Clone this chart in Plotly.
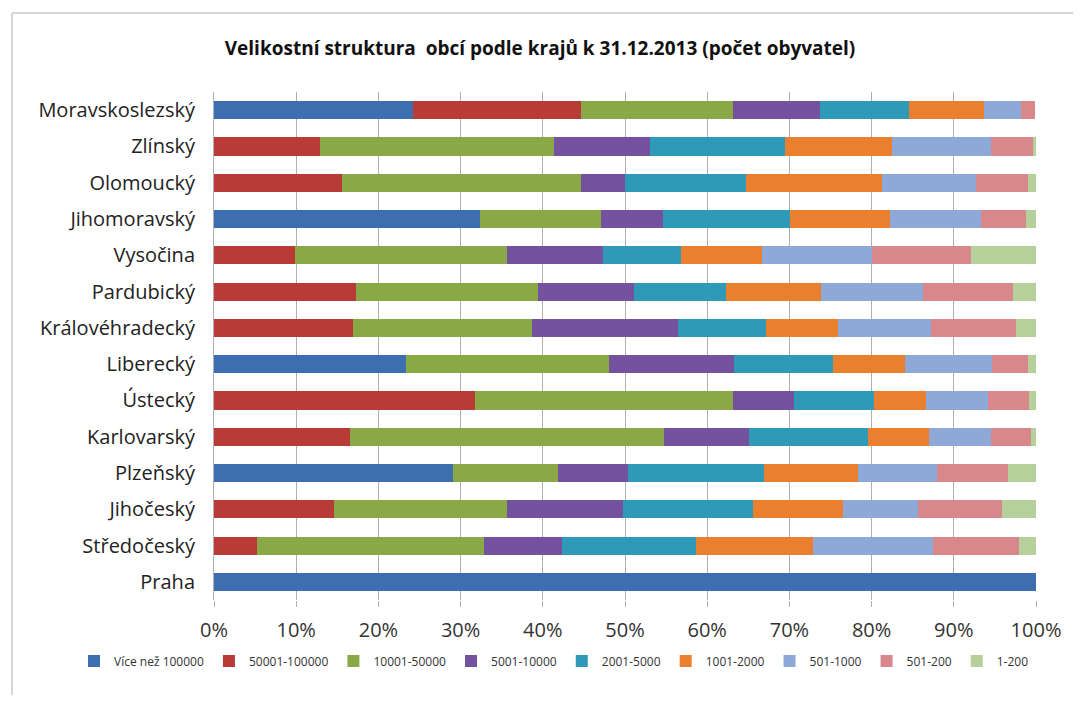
import plotly.graph_objects as go

regions = ["Moravskoslezský", "Zlínský", "Olomoucký", "Jihomoravský", "Vysočina",
           "Pardubický", "Královéhradecký", "Liberecký", "Ústecký", "Karlovarský",
           "Plzeňský", "Jihočeský", "Středočeský", "Praha"]

series_names = ["Více než 100000", "50001-100000", "10001-50000", "5001-10000",
                "2001-5000", "1001-2000", "501-1000", "501-200", "1-200"]

s_100000_plus = [24.2, 0, 0, 32.3, 0, 0, 0, 23.4, 0, 0, 29.1, 0, 0, 100]
s_50001_100000 = [20.4, 12.9, 15.6, 0, 9.9, 17.3, 16.9, 0, 31.7, 16.6, 0, 14.6, 5.2, 0]
s_10001_50000 = [18.5, 28.5, 29.1, 14.8, 25.7, 22.1, 21.8, 24.7, 31.4, 38.1, 12.7, 21.1, 27.6, 0]
s_5001_10000 = [10.6, 11.6, 5.3, 7.5, 11.7, 11.7, 17.7, 15.1, 7.5, 10.4, 8.6, 14.0, 9.5, 0]
s_2001_5000 = [10.8, 16.5, 14.7, 15.5, 9.5, 11.2, 10.8, 12.1, 9.7, 14.5, 16.5, 15.9, 16.3, 0]
s_1001_2000 = [9.2, 13.0, 16.6, 12.1, 9.9, 11.5, 8.7, 8.8, 6.3, 7.4, 11.4, 10.9, 14.3, 0]
s_501_1000 = [4.5, 12.0, 11.4, 11.1, 13.4, 12.5, 11.3, 10.5, 7.5, 7.5, 9.6, 9.1, 14.6, 0]
s_201_500 = [1.7, 5.1, 6.3, 5.5, 12.0, 10.9, 10.4, 4.4, 5.1, 4.9, 8.7, 10.3, 10.4, 0]
s_1_200 = [0, 0.4, 1.0, 1.2, 7.9, 2.8, 2.4, 1.0, 0.8, 0.6, 3.4, 4.1, 2.1, 0]

series_values = [s_100000_plus, s_50001_100000, s_10001_50000, s_5001_10000,
                 s_2001_5000, s_1001_2000, s_501_1000, s_201_500, s_1_200]

colors = ["#3D6FB0", "#B93B38", "#8AA845", "#7452A0", "#2F9AB8",
          "#E97F2F", "#8EA9D8", "#D8878A", "#B5D09A"]

x_ticks = [0, 0.1, 0.2, 0.3, 0.4, 0.5, 0.6, 0.7, 0.8, 0.9, 1.0]
x_tick_labels = ["0%", "10%", "20%", "30%", "40%", "50%", "60%", "70%", "80%", "90%", "100%"]

fig = go.Figure()
for name, vals, col in zip(series_names, series_values, colors):
    fig.add_trace(go.Bar(
        y=regions, x=[v / 100 for v in vals], name=name, orientation="h",
        marker=dict(color=col, line=dict(width=0)),
    ))

# page body has an 8px margin: figure pixel = reference pixel - 8
OFF = 8
W, H = 1065, 687
ml = 214 - OFF
mt = 92 - OFF
mr = W - (1036 - OFF)
mb = H - (600 - OFF)
pw, ph = W - ml - mr, H - mt - mb

def px_x(p):
    return (p - OFF - ml) / pw

def px_y(p):
    return 1 - (p - OFF - mt) / ph

fig.update_layout(
    width=W, height=H,
    margin=dict(l=ml, r=mr, t=mt, b=mb, autoexpand=False),
    barmode="stack",
    bargap=0.5,
    paper_bgcolor="white",
    plot_bgcolor="white",
    font=dict(family="Open Sans, sans-serif", color="#222222"),
    title=dict(
        text="<b>Velikostní struktura  obcí podle krajů k 31.12.2013 (počet obyvatel)</b>",
        x=(540 - OFF) / W, xref="container", xanchor="center",
        y=1 - (48 - OFF) / H, yref="container", yanchor="middle",
        font=dict(size=19, family="Open Sans, sans-serif", color="#111111"),
    ),
    xaxis=dict(
        range=[0, 1], tickvals=x_ticks, ticktext=x_tick_labels, tickangle=0,
        showgrid=True, gridcolor="#AFAFAF", gridwidth=1,
        zeroline=False, showline=False,
        ticks="outside", ticklen=6, tickcolor="#AFAFAF",
        ticklabelstandoff=6,
        tickfont=dict(size=20, color="#333333"),
        fixedrange=True,
    ),
    yaxis=dict(
        autorange="reversed",
        showgrid=False, showline=True, linecolor="#AFAFAF", linewidth=1,
        ticks="", tickfont=dict(size=20, color="#222222"),
        ticklabelstandoff=14,
    ),
    legend=dict(
        orientation="h", traceorder="normal",
        x=px_x(74), xanchor="left", xref="paper",
        y=px_y(661), yref="paper", yanchor="middle",
        font=dict(size=12, color="#333333"),
        itemwidth=30,
    ),
    showlegend=True,
    shapes=[
        dict(type="line", xref="paper", yref="paper",
             x0=px_x(12), x1=px_x(1100), y0=px_y(13), y1=px_y(13),
             line=dict(color="#D6D6D6", width=2)),
        dict(type="line", xref="paper", yref="paper",
             x0=px_x(12), x1=px_x(12), y0=px_y(13), y1=px_y(720),
             line=dict(color="#D6D6D6", width=2)),
    ],
)

fig.write_html("out.html")
